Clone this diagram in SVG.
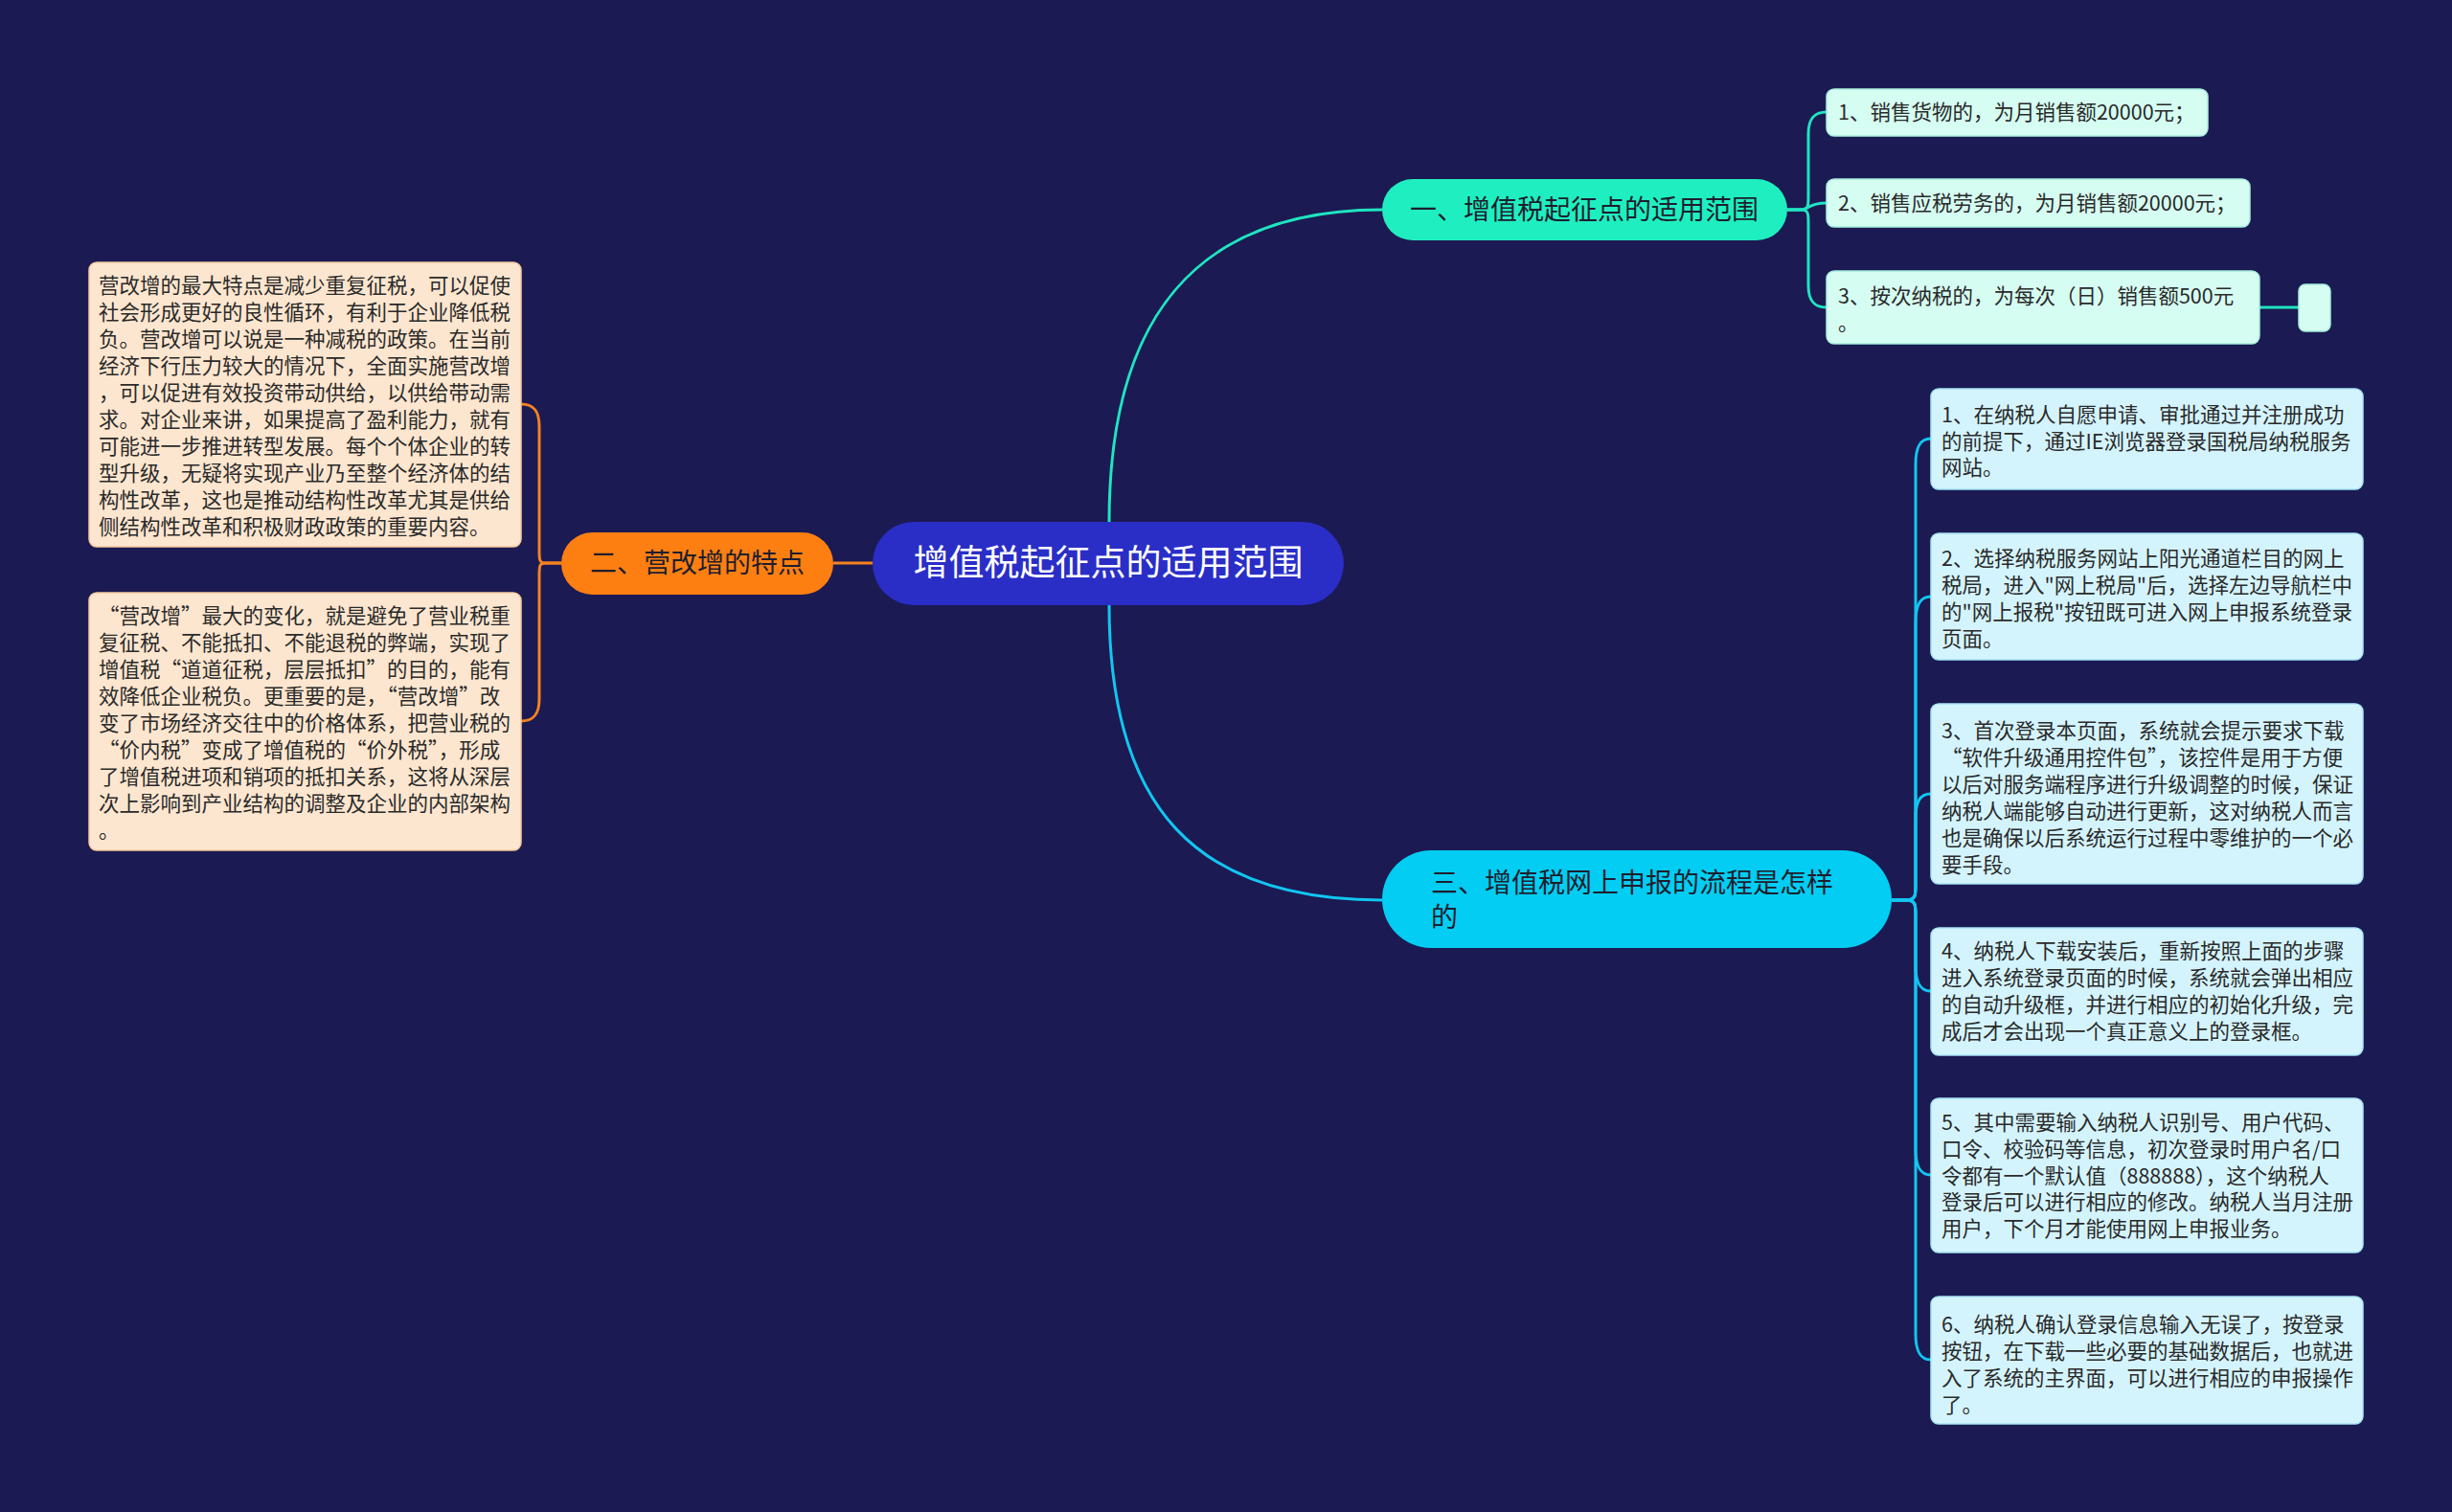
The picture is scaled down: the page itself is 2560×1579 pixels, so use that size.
<svg xmlns="http://www.w3.org/2000/svg" width="2560" height="1579" viewBox="0 0 2560 1579">
<style>
text{font-family:"Noto Sans CJK SC","Noto Sans",sans-serif;}
.leaf{font-size:21.5px;fill:#2a2a2a;}
.br{font-size:28px;fill:#1e1e2e;}
.lo{fill:#fde6cf;stroke:#f3c9a0;stroke-width:1.5;}
.lt{fill:#d6fdf2;stroke:#a7eedc;stroke-width:1.5;}
.lc{fill:#d4f4fd;stroke:#a6e2f3;stroke-width:1.5;}
.co{fill:none;stroke:#f58220;stroke-width:3;}
.ct{fill:none;stroke:#1fe5c0;stroke-width:3;}
.cc{fill:none;stroke:#12c6f0;stroke-width:3;}
</style>
<rect width="2560" height="1579" fill="#1b1a53"/>
<g id="connectors">
<path class="co" d="M870 588 H911"/>
<path class="co" d="M586 588 H570 C563 588 563 585 563 575 V445 C563 430 558 422 544 422"/>
<path class="co" d="M586 588 H570 C563 588 563 591 563 601 V730 C563 745 558 753 544 753"/>
<path class="ct" d="M1158 545 C1158 330 1250 219 1443 219"/>
<path class="cc" d="M1158 632 C1158 845 1250 940 1443 940"/>
<path class="ct" d="M1866 219 H1880 C1888 219 1888 215 1888 205 V140 C1888 125 1893 117 1907 117"/>
<path class="ct" d="M1866 219 H1880 C1888 219 1888 212 1907 212"/>
<path class="ct" d="M1866 219 H1880 C1888 219 1888 223 1888 233 V298 C1888 313 1893 321 1907 321"/>
<path class="ct" d="M2359 321 H2400"/>
<path class="cc" d="M1975 940 H1990 C2000 940 2000 935 2000 925 V485 C2000 468 2004 458 2016 458"/>
<path class="cc" d="M1975 940 H1990 C2000 940 2000 935 2000 925 V650 C2000 633 2004 623 2016 623"/>
<path class="cc" d="M1975 940 H1990 C2000 940 2000 935 2000 925 V855 C2000 838 2004 829 2016 829"/>
<path class="cc" d="M1975 940 H1990 C2000 940 2000 945 2000 955 V1008 C2000 1025 2004 1035 2016 1035"/>
<path class="cc" d="M1975 940 H1990 C2000 940 2000 945 2000 955 V1200 C2000 1217 2004 1227 2016 1227"/>
<path class="cc" d="M1975 940 H1990 C2000 940 2000 945 2000 955 V1393 C2000 1410 2004 1420 2016 1420"/>
</g>
<g id="center">
<rect x="911" y="545" width="492" height="87" rx="43.5" fill="#2a2ec7"/>
<text x="1157" y="601" font-size="37" fill="#ffffff" text-anchor="middle">增值税起征点的适用范围</text>
</g>
<g id="branch2">
<rect x="586" y="556" width="284" height="65" rx="32.5" fill="#fd7f12"/>
<text class="br" x="728" y="598" text-anchor="middle">二、营改增的特点</text>
</g>
<g id="leafL1">
<rect class="lo" x="93" y="274" width="451" height="297" rx="8"/>
<text class="leaf"><tspan x="103" y="306">营改增的最大特点是减少重复征税，可以促使</tspan><tspan x="103" y="334">社会形成更好的良性循环，有利于企业降低税</tspan><tspan x="103" y="362">负。营改增可以说是一种减税的政策。在当前</tspan><tspan x="103" y="390">经济下行压力较大的情况下，全面实施营改增</tspan><tspan x="103" y="418">，可以促进有效投资带动供给，以供给带动需</tspan><tspan x="103" y="446">求。对企业来讲，如果提高了盈利能力，就有</tspan><tspan x="103" y="474">可能进一步推进转型发展。每个个体企业的转</tspan><tspan x="103" y="502">型升级，无疑将实现产业乃至整个经济体的结</tspan><tspan x="103" y="530">构性改革，这也是推动结构性改革尤其是供给</tspan><tspan x="103" y="558">侧结构性改革和积极财政政策的重要内容。</tspan></text>
</g>
<g id="leafL2">
<rect class="lo" x="93" y="619" width="451" height="269" rx="8"/>
<text class="leaf"><tspan x="103" y="651">“营改增”最大的变化，就是避免了营业税重</tspan><tspan x="103" y="679">复征税、不能抵扣、不能退税的弊端，实现了</tspan><tspan x="103" y="707">增值税“道道征税，层层抵扣”的目的，能有</tspan><tspan x="103" y="735">效降低企业税负。更重要的是，“营改增”改</tspan><tspan x="103" y="763">变了市场经济交往中的价格体系，把营业税的</tspan><tspan x="103" y="791">“价内税”变成了增值税的“价外税”，形成</tspan><tspan x="103" y="819">了增值税进项和销项的抵扣关系，这将从深层</tspan><tspan x="103" y="847">次上影响到产业结构的调整及企业的内部架构</tspan><tspan x="103" y="875">。</tspan></text>
</g>
<g id="branch1">
<rect x="1443" y="187" width="423" height="64" rx="32" fill="#1fefc0"/>
<text class="br" x="1654" y="229" text-anchor="middle">一、增值税起征点的适用范围</text>
</g>
<g id="leafT1">
<rect class="lt" x="1907" y="93" width="398" height="49" rx="8"/>
<text class="leaf" x="1919" y="125">1、销售货物的，为月销售额20000元；</text>
</g>
<g id="leafT2">
<rect class="lt" x="1907" y="187" width="442" height="50" rx="8"/>
<text class="leaf" x="1919" y="220">2、销售应税劳务的，为月销售额20000元；</text>
</g>
<g id="leafT3">
<rect class="lt" x="1907" y="283" width="452" height="76" rx="8"/>
<text class="leaf"><tspan x="1919" y="317">3、按次纳税的，为每次（日）销售额500元</tspan><tspan x="1919" y="345">。</tspan></text>
</g>
<g id="leafT3a">
<rect class="lt" x="2400" y="297" width="33" height="49" rx="7"/>
</g>
<g id="branch3">
<rect x="1443" y="888" width="532" height="102" rx="51" fill="#03cdf2"/>
<text class="br"><tspan x="1494" y="932">三、增值税网上申报的流程是怎样</tspan><tspan x="1494" y="968">的</tspan></text>
</g>
<g id="leafR1">
<rect class="lc" x="2016" y="406" width="451" height="105" rx="8"/>
<text class="leaf"><tspan x="2027" y="441">1、在纳税人自愿申请、审批通过并注册成功</tspan><tspan x="2027" y="469">的前提下，通过IE浏览器登录国税局纳税服务</tspan><tspan x="2027" y="496">网站。</tspan></text>
</g>
<g id="leafR2">
<rect class="lc" x="2016" y="557" width="451" height="132" rx="8"/>
<text class="leaf"><tspan x="2027" y="591">2、选择纳税服务网站上阳光通道栏目的网上</tspan><tspan x="2027" y="619">税局，进入"网上税局"后，选择左边导航栏中</tspan><tspan x="2027" y="647">的"网上报税"按钮既可进入网上申报系统登录</tspan><tspan x="2027" y="675">页面。</tspan></text>
</g>
<g id="leafR3">
<rect class="lc" x="2016" y="735" width="451" height="188" rx="8"/>
<text class="leaf"><tspan x="2027" y="771">3、首次登录本页面，系统就会提示要求下载</tspan><tspan x="2027" y="799">“软件升级通用控件包”，该控件是用于方便</tspan><tspan x="2027" y="827">以后对服务端程序进行升级调整的时候，保证</tspan><tspan x="2027" y="855">纳税人端能够自动进行更新，这对纳税人而言</tspan><tspan x="2027" y="883">也是确保以后系统运行过程中零维护的一个必</tspan><tspan x="2027" y="911">要手段。</tspan></text>
</g>
<g id="leafR4">
<rect class="lc" x="2016" y="969" width="451" height="133" rx="8"/>
<text class="leaf"><tspan x="2027" y="1001">4、纳税人下载安装后，重新按照上面的步骤</tspan><tspan x="2027" y="1029">进入系统登录页面的时候，系统就会弹出相应</tspan><tspan x="2027" y="1057">的自动升级框，并进行相应的初始化升级，完</tspan><tspan x="2027" y="1085">成后才会出现一个真正意义上的登录框。</tspan></text>
</g>
<g id="leafR5">
<rect class="lc" x="2016" y="1147" width="451" height="161" rx="8"/>
<text class="leaf"><tspan x="2027" y="1180">5、其中需要输入纳税人识别号、用户代码、</tspan><tspan x="2027" y="1208">口令、校验码等信息，初次登录时用户名/口</tspan><tspan x="2027" y="1236">令都有一个默认值（888888），这个纳税人</tspan><tspan x="2027" y="1263">登录后可以进行相应的修改。纳税人当月注册</tspan><tspan x="2027" y="1291">用户，下个月才能使用网上申报业务。</tspan></text>
</g>
<g id="leafR6">
<rect class="lc" x="2016" y="1354" width="451" height="133" rx="8"/>
<text class="leaf"><tspan x="2027" y="1391">6、纳税人确认登录信息输入无误了，按登录</tspan><tspan x="2027" y="1419">按钮，在下载一些必要的基础数据后，也就进</tspan><tspan x="2027" y="1447">入了系统的主界面，可以进行相应的申报操作</tspan><tspan x="2027" y="1475">了。</tspan></text>
</g>
</svg>
